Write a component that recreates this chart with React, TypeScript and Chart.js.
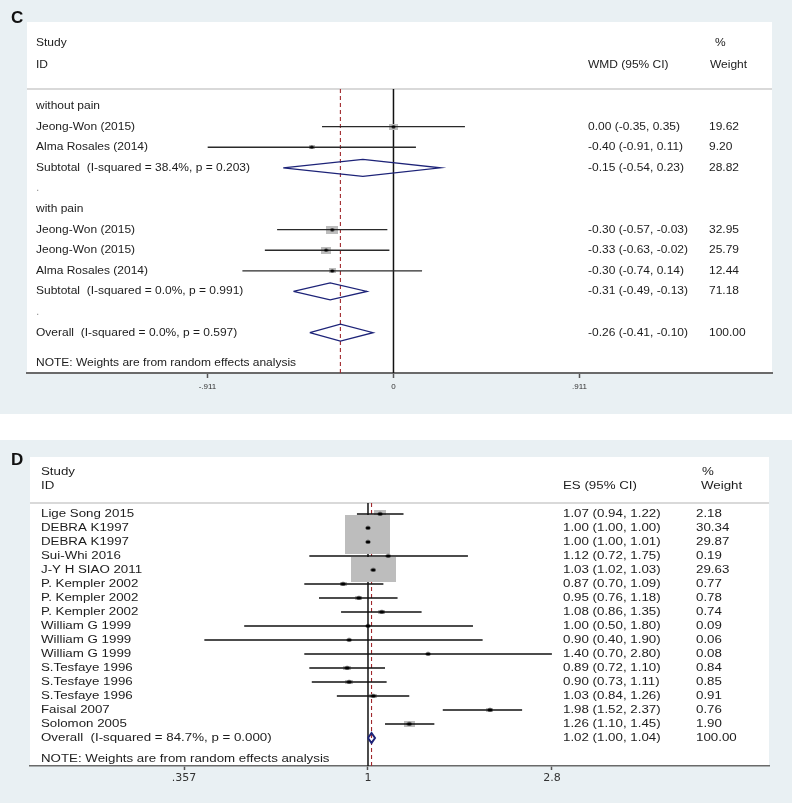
import React, { useEffect, useRef } from "react";
import { Chart, registerables } from "chart.js";
Chart.register(...registerables);

// ---------------- Panel C data ----------------
const cLabels = [
  "without pain",
  "Jeong-Won (2015)",
  "Alma Rosales (2014)",
  "Subtotal  (I-squared = 38.4%, p = 0.203)",
  ".",
  "with pain",
  "Jeong-Won (2015)",
  "Jeong-Won (2015)",
  "Alma Rosales (2014)",
  "Subtotal  (I-squared = 0.0%, p = 0.991)",
  ".",
  "Overall  (I-squared = 0.0%, p = 0.597)",
];
const cKinds = ["head", "study", "study", "sub", "blank", "head", "study", "study", "study", "sub", "blank", "overall"];
const cEst = [null, 0.0, -0.4, -0.15, null, null, -0.3, -0.33, -0.3, -0.31, null, -0.26];
const cLo = [null, -0.35, -0.91, -0.54, null, null, -0.57, -0.63, -0.74, -0.49, null, -0.41];
const cHi = [null, 0.35, 0.11, 0.23, null, null, -0.03, -0.02, 0.14, -0.13, null, -0.1];
const cWeight = [null, 19.62, 9.2, 28.82, null, null, 32.95, 25.79, 12.44, 71.18, null, 100.0];
const cTicks = [-0.911, 0, 0.911];
const cTickLabels = ["-.911", "0", ".911"];

// ---------------- Panel D data ----------------
const dLabels = [
  "Lige Song 2015",
  "DEBRA K1997",
  "DEBRA K1997",
  "Sui-Whi 2016",
  "J-Y H SIAO 2011",
  "P. Kempler 2002",
  "P. Kempler 2002",
  "P. Kempler 2002",
  "William G 1999",
  "William G 1999",
  "William G 1999",
  "S.Tesfaye 1996",
  "S.Tesfaye 1996",
  "S.Tesfaye 1996",
  "Faisal 2007",
  "Solomon 2005",
  "Overall  (I-squared = 84.7%, p = 0.000)",
];
const dKinds = ["study", "study", "study", "study", "study", "study", "study", "study", "study", "study", "study", "study", "study", "study", "study", "study", "overall"];
const dEst = [1.07, 1.0, 1.0, 1.12, 1.03, 0.87, 0.95, 1.08, 1.0, 0.9, 1.4, 0.89, 0.9, 1.03, 1.98, 1.26, 1.02];
const dLo = [0.94, 1.0, 1.0, 0.72, 1.02, 0.7, 0.76, 0.86, 0.5, 0.4, 0.7, 0.72, 0.73, 0.84, 1.52, 1.1, 1.0];
const dHi = [1.22, 1.0, 1.01, 1.75, 1.03, 1.09, 1.18, 1.35, 1.8, 1.9, 2.8, 1.1, 1.11, 1.26, 2.37, 1.45, 1.04];
const dWeight = [2.18, 30.34, 29.87, 0.19, 29.63, 0.77, 0.78, 0.74, 0.09, 0.06, 0.08, 0.84, 0.85, 0.91, 0.76, 1.9, 100.0];
const dTicks = [0.357, 1, 2.8];
const dTickLabels = [".357", "1", "2.8"];

const NOTE = "NOTE: Weights are from random effects analysis";

// ---------------- styling ----------------
const GREY_BG = "#e9f0f3";
const NAVY = "#1d2378";
const RED = "#a0282c";
const BOX_GREY = "#bdbdbd";
const TEXT = "#1c1c1c";
const FAMILY = '"Liberation Sans", Arial, sans-serif';

type Panel = {
  letter: string;
  letterY: number;
  canvasH: number;
  labels: string[];
  kinds: string[];
  est: (number | null)[];
  lo: (number | null)[];
  hi: (number | null)[];
  weight: (number | null)[];
  colHeader: string;
  xType: "linear" | "logarithmic";
  xMin: number;
  xMax: number;
  ticks: number[];
  tickLabels: string[];
  nullValue: number;
  yMin: number;
  yMax: number;
  headerRow: number;
  studyRow: number;
  idRow: number;
  noteRow: number;
  font: number;
  sx: number;
  labelX: number;
  ciX: number;
  wX: number;
  wHeadX: number;
  pctX: number;
  boxW: number;
  boxH: number;
  dotW: number;
  dotH: number;
  diamondHalf: number;
  diamondWidth: number;
  ciWidth: number;
  ciColor: string;
  axisWidth: number;
  tickFont: number;
  tickFamily: string;
  tickPadding: number;
  tickLength: number;
  padLeft: number;
  padRight: number;
  padTop: number;
  axisHeight: number;
};

const panelC: Panel = {
  letter: "C",
  letterY: 18.5,
  canvasH: 414,
  labels: cLabels,
  kinds: cKinds,
  est: cEst,
  lo: cLo,
  hi: cHi,
  weight: cWeight,
  colHeader: "WMD (95% CI)",
  xType: "linear",
  xMin: -1.795,
  xMax: 1.854,
  ticks: cTicks,
  tickLabels: cTickLabels,
  nullValue: 0,
  yMin: -4.08,
  yMax: 12.96,
  headerRow: -0.83,
  studyRow: -3.07,
  idRow: -2.0,
  noteRow: 12.48,
  font: 11,
  sx: 1.09,
  labelX: 36,
  ciX: 588,
  wX: 709,
  wHeadX: 710,
  pctX: 715,
  boxW: 2.05,
  boxH: 1.4,
  dotW: 4,
  dotH: 3,
  diamondHalf: 0.41,
  diamondWidth: 1.3,
  ciWidth: 1.4,
  ciColor: "#2a2a2a",
  axisWidth: 2,
  tickFont: 8,
  tickFamily: FAMILY,
  tickPadding: 4,
  tickLength: 5,
  padLeft: 27,
  padRight: 21,
  padTop: 22,
  axisHeight: 41,
};

const panelD: Panel = {
  letter: "D",
  letterY: 20,
  canvasH: 363,
  labels: dLabels,
  kinds: dKinds,
  est: dEst,
  lo: dLo,
  hi: dHi,
  weight: dWeight,
  colHeader: "ES (95% CI)",
  xType: "logarithmic",
  xMin: 0.1507,
  xMax: 9.443,
  ticks: dTicks,
  tickLabels: dTickLabels,
  nullValue: 1,
  yMin: -4.07,
  yMax: 18.0,
  headerRow: -0.79,
  studyRow: -3.0,
  idRow: -2.0,
  noteRow: 17.5,
  font: 10,
  sx: 1.33,
  labelX: 41,
  ciX: 563,
  wX: 696,
  wHeadX: 701,
  pctX: 702,
  boxW: 8.2,
  boxH: 4.55,
  dotW: 5,
  dotH: 3.5,
  diamondHalf: 0.36,
  diamondWidth: 2,
  ciWidth: 1.3,
  ciColor: "#111111",
  axisWidth: 1.6,
  tickFont: 11,
  tickFamily: '"DejaVu Sans", sans-serif',
  tickPadding: 2,
  tickLength: 4,
  padLeft: 30,
  padRight: 24,
  padTop: 17,
  axisHeight: 37,
};

function makeRect(w: number, h: number, color: string) {
  const c = document.createElement("canvas");
  c.width = Math.max(1, Math.round(w));
  c.height = Math.max(1, Math.round(h));
  const g = c.getContext("2d")!;
  g.fillStyle = color;
  g.fillRect(0, 0, c.width, c.height);
  return c;
}

function makeDot(w: number, h: number) {
  const c = document.createElement("canvas");
  c.width = Math.ceil(w) + 1;
  c.height = Math.ceil(h) + 1;
  const g = c.getContext("2d")!;
  g.fillStyle = "#000";
  g.beginPath();
  g.ellipse(c.width / 2, c.height / 2, w / 2, h / 2, 0, 0, Math.PI * 2);
  g.fill();
  return c;
}

function txt(ctx: CanvasRenderingContext2D, s: string, x: number, y: number, sx: number) {
  ctx.save();
  ctx.translate(x, y);
  ctx.scale(sx, 1);
  ctx.fillText(s, 0, 0);
  ctx.restore();
}

function fmt(v: number) {
  return v.toFixed(2);
}

function buildChart(canvas: HTMLCanvasElement, p: Panel) {
  const rows = p.labels.map((_, i) => i);
  const studyIdx = rows.filter((i) => p.kinds[i] === "study");
  const diaIdx = rows.filter((i) => p.kinds[i] === "sub" || p.kinds[i] === "overall");
  const overallIdx = rows.find((i) => p.kinds[i] === "overall")!;
  const overallEst = p.est[overallIdx] as number;

  const boxImgs = studyIdx.map((i) => {
    const w = p.weight[i] as number;
    return makeRect(p.boxW * Math.sqrt(w), p.boxH * Math.sqrt(w), BOX_GREY);
  });
  const dotImg = makeDot(p.dotW, p.dotH);

  const datasets: any[] = [];
  // weight boxes
  datasets.push({
    label: "boxes",
    data: studyIdx.map((i) => ({ x: p.est[i], y: i })),
    pointStyle: boxImgs,
    pointRadius: 1,
    showLine: false,
    order: 3,
  });
  // confidence intervals
  studyIdx.forEach((i) => {
    datasets.push({
      label: "ci" + i,
      data: [
        { x: p.lo[i], y: i },
        { x: p.hi[i], y: i },
      ],
      showLine: true,
      borderColor: p.ciColor,
      borderWidth: p.ciWidth,
      pointRadius: 0,
      fill: false,
      order: 2,
    });
  });
  // pooled diamonds
  diaIdx.forEach((i) => {
    datasets.push({
      label: "dia" + i,
      data: [
        { x: p.lo[i], y: i },
        { x: p.est[i], y: i - p.diamondHalf },
        { x: p.hi[i], y: i },
        { x: p.est[i], y: i + p.diamondHalf },
        { x: p.lo[i], y: i },
      ],
      showLine: true,
      borderColor: NAVY,
      borderWidth: p.diamondWidth,
      borderJoinStyle: "miter",
      pointRadius: 0,
      fill: false,
      order: 2,
    });
  });
  // point estimates
  datasets.push({
    label: "dots",
    data: studyIdx.map((i) => ({ x: p.est[i], y: i })),
    pointStyle: dotImg,
    pointRadius: 1,
    showLine: false,
    order: 1,
  });

  const plugin = {
    id: "forest" + p.letter,
    beforeDraw(chart: any) {
      const { ctx, chartArea: a, width, height } = chart;
      ctx.save();
      ctx.fillStyle = "#ffffff";
      ctx.fillRect(0, 0, width, height);
      ctx.fillStyle = GREY_BG;
      ctx.fillRect(0, 0, 792, height);
      ctx.fillStyle = "#ffffff";
      ctx.fillRect(a.left, a.top, a.right - a.left, a.bottom - a.top);
      ctx.restore();
    },
    beforeDatasetsDraw(chart: any) {
      const { ctx, chartArea: a, scales } = chart;
      const x = scales.x;
      const y = scales.y;
      const yh = y.getPixelForValue(p.headerRow);
      ctx.save();
      ctx.strokeStyle = "#d9d9d9";
      ctx.lineWidth = 2;
      ctx.beginPath();
      ctx.moveTo(a.left, yh);
      ctx.lineTo(a.right, yh);
      ctx.stroke();
      const x0 = x.getPixelForValue(p.nullValue);
      ctx.strokeStyle = "#111";
      ctx.lineWidth = 1.5;
      ctx.beginPath();
      ctx.moveTo(x0, yh);
      ctx.lineTo(x0, a.bottom);
      ctx.stroke();
      const xo = x.getPixelForValue(overallEst);
      ctx.strokeStyle = RED;
      ctx.lineWidth = 1.1;
      ctx.setLineDash([4, 3]);
      ctx.beginPath();
      ctx.moveTo(xo, yh);
      ctx.lineTo(xo, a.bottom);
      ctx.stroke();
      ctx.restore();
    },
    afterDraw(chart: any) {
      const { ctx, scales } = chart;
      const y = scales.y;
      ctx.save();
      ctx.textBaseline = "middle";
      ctx.textAlign = "left";
      ctx.fillStyle = "#111";
      ctx.font = `bold 17px ${FAMILY}`;
      ctx.fillText(p.letter, 11, p.letterY);

      ctx.fillStyle = TEXT;
      ctx.font = `${p.font}px ${FAMILY}`;
      const ys = y.getPixelForValue(p.studyRow);
      const yi = y.getPixelForValue(p.idRow);
      txt(ctx, "Study", p.labelX, ys, p.sx);
      txt(ctx, "ID", p.labelX, yi, p.sx);
      txt(ctx, p.colHeader, p.ciX, yi, p.sx);
      txt(ctx, "%", p.pctX, ys, p.sx);
      txt(ctx, "Weight", p.wHeadX, yi, p.sx);

      p.labels.forEach((lab, i) => {
        const yy = y.getPixelForValue(i);
        ctx.fillStyle = p.kinds[i] === "blank" ? "#9a9a9a" : TEXT;
        txt(ctx, lab, p.labelX, yy, p.sx);
        ctx.fillStyle = TEXT;
        const e = p.est[i];
        if (e !== null && e !== undefined) {
          const s = `${fmt(e)} (${fmt(p.lo[i] as number)}, ${fmt(p.hi[i] as number)})`;
          txt(ctx, s, p.ciX, yy, p.sx);
        }
        const w = p.weight[i];
        if (w !== null && w !== undefined) {
          txt(ctx, fmt(w), p.wX, yy, p.sx);
        }
      });
      txt(ctx, NOTE, p.labelX, y.getPixelForValue(p.noteRow), p.sx);
      ctx.restore();
    },
  };

  return new Chart(canvas, {
    type: "scatter",
    data: { datasets },
    plugins: [plugin],
    options: {
      animation: false,
      responsive: false,
      events: [],
      layout: { padding: { left: p.padLeft, right: p.padRight, top: p.padTop, bottom: 0 } },
      plugins: { legend: { display: false }, tooltip: { enabled: false } },
      elements: { line: { tension: 0 } },
      scales: {
        x: {
          type: p.xType,
          min: p.xMin,
          max: p.xMax,
          bounds: "data",
          afterBuildTicks: (s: any) => {
            s.ticks = p.ticks.map((v) => ({ value: v }));
          },
          afterFit: (s: any) => {
            s.height = p.axisHeight;
          },
          ticks: {
            autoSkip: false,
            maxRotation: 0,
            padding: p.tickPadding,
            color: "#333",
            font: { size: p.tickFont, family: p.tickFamily },
            callback: (_v: any, i: number) => p.tickLabels[i],
          },
          grid: {
            display: true,
            drawOnChartArea: false,
            drawTicks: true,
            tickLength: p.tickLength,
            tickColor: "#555",
            tickWidth: 1.5,
          },
          border: { display: true, color: "#6a6a6a", width: p.axisWidth },
        },
        y: {
          type: "linear",
          display: false,
          reverse: true,
          min: p.yMin,
          max: p.yMax,
          bounds: "data",
        },
      },
    } as any,
  });
}

function ForestCanvas({ panel, top }: { panel: Panel; top: number }) {
  const ref = useRef<HTMLCanvasElement | null>(null);
  useEffect(() => {
    if (!ref.current) return;
    const chart = buildChart(ref.current, panel);
    return () => chart.destroy();
  }, [panel]);
  return (
    <canvas
      ref={ref}
      width={793}
      height={panel.canvasH}
      style={{ position: "absolute", left: 0, top, width: 793, height: panel.canvasH, display: "block" }}
    />
  );
}

export default function App() {
  return (
    <div style={{ position: "absolute", left: 0, top: 0, width: 793, height: 803, background: "#fff", overflow: "hidden" }}>
      <ForestCanvas panel={panelC} top={0} />
      <ForestCanvas panel={panelD} top={440} />
    </div>
  );
}
